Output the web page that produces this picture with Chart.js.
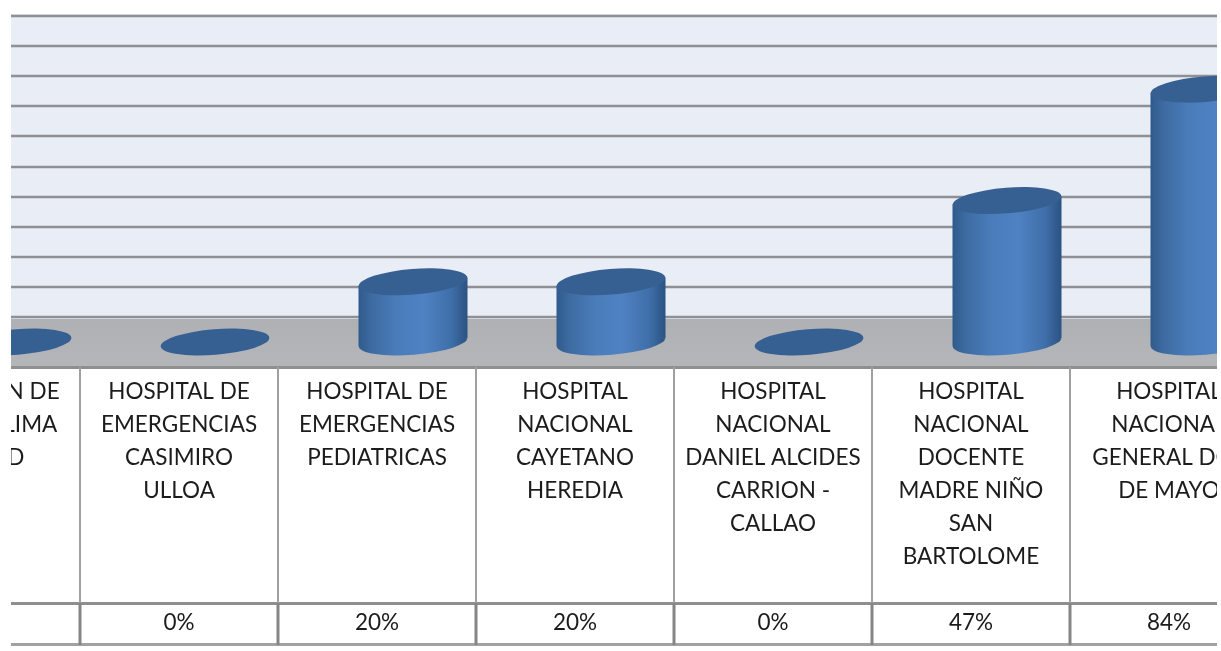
<!DOCTYPE html>
<html><head><meta charset="utf-8">
<script src="https://cdn.jsdelivr.net/npm/chart.js@4"></script>
<style>
html,body{margin:0;padding:0;background:#fff;overflow:hidden}
#clip{position:absolute;left:11px;top:0;width:1206px;height:651px;overflow:hidden}
#c{position:absolute;left:-129px;top:0}
</style></head><body>
<div id="clip"><canvas id="c" width="1386" height="651" style="width:1386px;height:651px"></canvas></div>
<script>
const categories = [
  ["DIRECCION DE","SALUD V LIMA","CIUDAD"],
  ["HOSPITAL DE","EMERGENCIAS","CASIMIRO","ULLOA"],
  ["HOSPITAL DE","EMERGENCIAS","PEDIATRICAS"],
  ["HOSPITAL","NACIONAL","CAYETANO","HEREDIA"],
  ["HOSPITAL","NACIONAL","DANIEL ALCIDES","CARRION -","CALLAO"],
  ["HOSPITAL","NACIONAL","DOCENTE","MADRE NIÑO","SAN","BARTOLOME"],
  ["HOSPITAL","NACIONAL","GENERAL DOS","DE MAYO"]
];
const percentValues = [0, 0, 20, 20, 0, 47, 84];
const FONT_FAMILY = 'Lato, "Open Sans", sans-serif';
const FONT_SIZE = 22.5;
const depthY = 25, depthX = 36, rX = 54.5, rY = 12.8, tilt = -4.6 * Math.PI / 180, skew = 4;

const scene = {
  id: 'scene',
  beforeDatasetsDraw(chart) {
    const {ctx, scales:{x, y}, chartArea:a} = chart;
    const floorTop = y.getPixelForValue(0) - depthY, floorBottom = y.getPixelForValue(0) + depthY;
    ctx.save();
    ctx.fillStyle = '#e9edf6';
    ctx.fillRect(a.left, y.getPixelForValue(100) - depthY, a.width, floorTop - y.getPixelForValue(100) + depthY);
    const fg = ctx.createLinearGradient(0, floorTop, 0, floorBottom);
    fg.addColorStop(0, '#aeb0b3'); fg.addColorStop(1, '#b4b6b9');
    ctx.fillStyle = fg;
    ctx.fillRect(a.left, floorTop, a.width, floorBottom - floorTop);
    y.ticks.forEach(t => {
      const py = Math.round(y.getPixelForValue(t.value) - depthY);
      ctx.fillStyle = '#d2d6dc'; ctx.fillRect(a.left, py - 2, a.width, 4);
      ctx.fillStyle = '#8e9095'; ctx.fillRect(a.left, py - 1, a.width, 2);
    });
    ctx.restore();
  },
  afterDatasetsDraw(chart) {
    const {ctx, scales:{x, y}, chartArea:a} = chart;
    const meta = chart.getDatasetMeta(0);
    const floorBottom = y.getPixelForValue(0) + depthY;
    ctx.save();
    ctx.filter = 'blur(0.6px)';
    meta.data.forEach(bar => {
      const cx = bar.x + depthX, top = bar.y, base = bar.base;
      const L = cx - rX, R = cx + rX;
      if (base - top > 1) {
        const g = ctx.createLinearGradient(L, 0, R, 0);
        g.addColorStop(0, '#2f5a8c'); g.addColorStop(.12, '#3d6ba1');
        g.addColorStop(.35, '#4a7cba'); g.addColorStop(.6, '#4f82c3');
        g.addColorStop(.85, '#3f6fa9'); g.addColorStop(1, '#2b5282');
        ctx.fillStyle = g;
        ctx.beginPath();
        ctx.ellipse(cx, base, rX, rY, tilt, 0, Math.PI * 2);
        ctx.moveTo(L, base + skew); ctx.lineTo(L, top + skew);
        ctx.lineTo(R, top - skew); ctx.lineTo(R, base - skew);
        ctx.closePath();
        ctx.fill('nonzero');
      }
      ctx.fillStyle = '#376092';
      ctx.beginPath(); ctx.ellipse(cx, top, rX, rY, tilt, 0, Math.PI * 2); ctx.fill();
    });
    ctx.filter = 'none';
    const rowTop = 603, rowBottom = 644;
    ctx.fillStyle = '#8f8f8f';
    ctx.fillRect(a.left, floorBottom - 1, a.width, 3);
    ctx.fillRect(a.left, rowTop - 1, a.width, 3);
    ctx.fillStyle = '#a2a2a2';
    ctx.fillRect(a.left, rowBottom - 1, a.width, 3);
    percentValues.forEach((v, i) => {
      const cell = x.getPixelForValue(i) + (x.getPixelForValue(1) - x.getPixelForValue(0)) / 2;
      ctx.fillStyle = '#a0a0a0'; ctx.fillRect(cell - 1, floorBottom, 2, rowTop - floorBottom);
      ctx.fillStyle = '#858585'; ctx.fillRect(cell - 1.5, rowTop, 3, rowBottom - rowTop + 1);
      ctx.fillStyle = '#1c1c1c'; ctx.font = FONT_SIZE + 'px ' + FONT_FAMILY;
      ctx.textAlign = 'center'; ctx.textBaseline = 'middle';
      ctx.fillText(v + '%', x.getPixelForValue(i), 623);
    });
    ctx.restore();
  }
};

new Chart(document.getElementById('c'), {
  type: 'bar',
  data: { labels: categories, datasets: [{ data: percentValues, backgroundColor: 'transparent', borderWidth: 0, barThickness: 110 }] },
  options: {
    responsive: false, animation: false,
    layout: { padding: { top: 41, left: 0, right: 0, bottom: 0 } },
    plugins: { legend: { display: false }, title: { display: false }, tooltip: { enabled: false } },
    scales: {
      x: {
        grid: { display: false }, border: { display: false },
        afterFit(s) { s.height = 309; s.paddingLeft = 0; s.paddingRight = 0; },
        ticks: { autoSkip: false, maxRotation: 0, minRotation: 0, padding: 25, color: '#1c1c1c',
          font: { family: FONT_FAMILY, size: FONT_SIZE, lineHeight: 33 / FONT_SIZE } }
      },
      y: {
        min: 0, max: 100, display: true,
        grid: { display: false }, border: { display: false },
        afterFit(s) { s.width = 0; s.paddingTop = 0; s.paddingBottom = 0; },
        ticks: { display: false, stepSize: 10 }
      }
    }
  },
  plugins: [scene]
});
</script>
</body></html>
